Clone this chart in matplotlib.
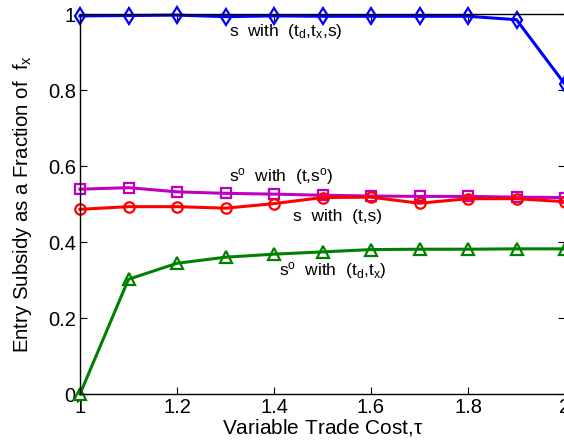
"""Entry subsidy as a fraction of f_x against the variable trade cost."""
import matplotlib
matplotlib.use("Agg")
import matplotlib.pyplot as plt  # noqa: E402

plt.rcParams["font.family"] = ["Liberation Sans", "DejaVu Sans"]
plt.rcParams["mathtext.fontset"] = "custom"
plt.rcParams["mathtext.rm"] = "Liberation Sans"
plt.rcParams["mathtext.it"] = "Liberation Sans"

tau = [1.0, 1.1, 1.2, 1.3, 1.4, 1.5, 1.6, 1.7, 1.8, 1.9, 2.0]

s_tdtxs = [0.995, 0.996, 0.997, 0.993, 0.995, 0.994, 0.994, 0.994, 0.994, 0.985, 0.815]
so_tso = [0.539, 0.543, 0.532, 0.528, 0.526, 0.523, 0.521, 0.520, 0.520, 0.518, 0.517]
s_ts = [0.486, 0.493, 0.493, 0.489, 0.501, 0.517, 0.518, 0.502, 0.514, 0.514, 0.506]
so_tdtx = [0.0, 0.302, 0.344, 0.360, 0.368, 0.374, 0.380, 0.381, 0.381, 0.382, 0.382]

_BLUE = "#0000ff"
_MAGENTA = "#bf00bf"
_RED = "#ff0000"
_GREEN = "#008000"

fig = plt.figure(figsize=(5.64, 4.47), dpi=100)
ax = fig.add_axes([80 / 564, 53 / 447, 485 / 564, 380 / 447])

style = dict(lw=2.2, ms=8, mew=1.6, mfc="none", clip_on=False)
ax.plot(tau, s_tdtxs, color=_BLUE, marker="d", **style)
ax.plot(tau, so_tso, color=_MAGENTA, marker="s", **dict(style, ms=6.5))
ax.plot(tau, s_ts, color=_RED, marker="o", **dict(style, ms=7.5))
ax.plot(tau, so_tdtx, color=_GREEN, marker="^", **style)

fs = 12.5
ax.text(1.307, 0.942, r"s  with  (t$_{\rm d}$,t$_{\rm x}$,s)", fontsize=fs)
ax.text(1.307, 0.561, r"s$^{\rm o}$  with  (t,s$^{\rm o}$)", fontsize=fs)
ax.text(1.439, 0.455, "s  with  (t,s)", fontsize=fs)
ax.text(1.41, 0.313, r"s$^{\rm o}$  with  (t$_{\rm d}$,t$_{\rm x}$)", fontsize=fs)

ax.set_xlim(1, 2)
ax.set_ylim(0, 1)
ax.set_xticks([1, 1.2, 1.4, 1.6, 1.8, 2])
ax.set_xticklabels(["1", "1.2", "1.4", "1.6", "1.8", "2"])
ax.set_yticks([0, 0.2, 0.4, 0.6, 0.8, 1])
ax.set_yticklabels(["0", "0.2", "0.4", "0.6", "0.8", "1"])
ax.tick_params(direction="in", length=5, width=0.8, labelsize=14.5,
               top=True, right=True, pad=3)
for sp in ax.spines.values():
    sp.set_linewidth(1.0)

ax.set_xlabel(r"Variable Trade Cost,$\tau$", fontsize=15, labelpad=0)
ax.set_ylabel(r"Entry Subsidy as a Fraction of  f$_{\rm x}$", fontsize=14.7,
              labelpad=10)

fig.savefig("out.png", dpi=100)
plt.close(fig)
